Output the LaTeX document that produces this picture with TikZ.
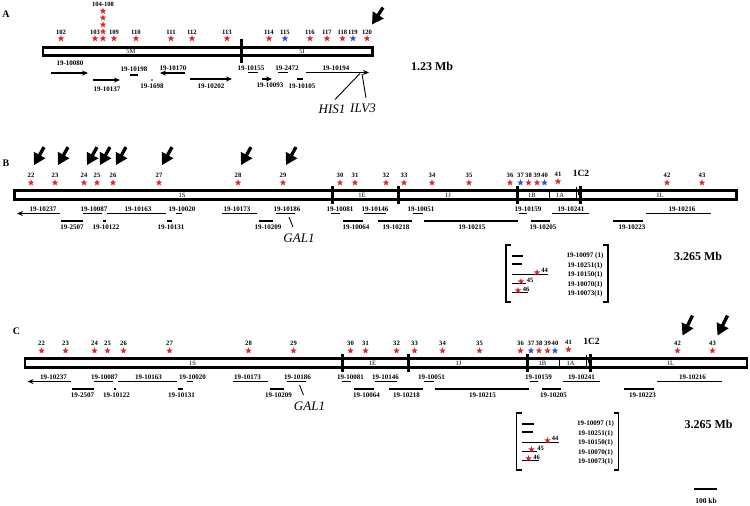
\documentclass[tikz,border=0pt]{standalone}
\usepackage{fontspec}
\setmainfont{Liberation Serif}
\usetikzlibrary{shapes.geometric,arrows.meta,calc}
\definecolor{mutred}{RGB}{222,38,48}
\definecolor{mutblue}{RGB}{52,72,235}
\tikzset{
  chrom/.style={draw, line width=2.8pt},
  cen/.style={line width=3pt},
  sepline/.style={line width=0.8pt},
  gene/.style={line width=1.1pt},
  genearrow/.style={gene, -{Stealth[length=6pt,width=5pt]}},
  glabel/.style={font=\fontsize{7}{8}\selectfont\bfseries, inner sep=0pt},
  seglabel/.style={font=\fontsize{6.5}{7}\selectfont, inner sep=0pt},
  num/.style={font=\fontsize{6.6}{8}\selectfont\bfseries, inner sep=0pt},
  smallnum/.style={font=\fontsize{6.5}{7}\selectfont\bfseries, inner sep=0pt},
  mut/.style={star, star points=5, star point ratio=2.4, fill=mutred,
              minimum size=6.8pt, inner sep=0pt},
  mutb/.style={mut, fill=mutblue},
  hotarrow/.style={line width=3.3pt, -{Triangle[length=11.5pt,width=12.5pt]}},
  pointer/.style={line width=0.9pt},
  genename/.style={font=\fontsize{13}{15}\selectfont\itshape, inner sep=0pt},
  mblabel/.style={font=\fontsize{12}{14}\selectfont\bfseries, inner sep=0pt},
  panel/.style={font=\fontsize{10}{12}\selectfont\bfseries, inner sep=0pt},
  brk/.style={line width=1.3pt},
}
% chromosome I map, drawn for panels B and C
\newcommand{\chrIpanel}[1]{%
  \node[panel] (tag) at (6,163) {#1};
  % chromosome box and region borders
  \draw[chrom] (14.5,190.8) rectangle (736.5,199.2);
  \foreach \x in {332,398,517,580} \draw[cen] (\x,186) -- (\x,204);
  \draw[sepline] (549,191) -- (549,199);
  \draw[sepline] (576,187) -- (576,199);
  \draw[sepline] (578,191.5) -- (578,194.5);
  % region names
  \foreach \r/\x in {1S/182,1E/362,1J/448,1B/532,1A/560,1L/660}
    \node[seglabel] (r\r) at (\x,195.3) {\r};
  \node[font=\fontsize{9.5}{11}\selectfont\bfseries, inner sep=0pt] (c2) at (581,173) {1C2};
  % mutation sites
  \foreach \n/\x in {22/31,23/55,24/84,25/97,26/113,27/159,28/238,29/283,30/340,31/355,
                     32/386,33/404,34/432,35/469,36/510,38/528.5,39/537,42/667,43/702}
    {\node[mut] (s\n) at (\x,182.7) {}; \node[num] (n\n) at (\x,175) {\n};}
  \foreach \n/\x in {37/520.5,40/544.5}
    {\node[mutb] (s\n) at (\x,182.7) {}; \node[num] (n\n) at (\x,175) {\n};}
  \node[mut] (s41) at (558,181.5) {};
  \node[num] (n41) at (558,174) {41};
  % genes, upper row
  \node[glabel] (g10237) at (43,209) {19-10237};
  \draw[genearrow] (60,213.5) -- (17,213.5);
  \foreach \g/\lx/\a/\b in {10087/94/83/102, 10163/138/107/166, 10020/182/176/182,
                            10173/237/222/257, 10186/287/276/295, 10081/340/331/340,
                            10146/375/364/386, 10051/421/413/423, 10159/528/519/527,
                            10241/571/552/589, 10216/682/646/711}
    {\node[glabel] (g\g) at (\lx,209) {19-\g}; \draw[gene] (\a,213.5) -- (\b,213.5);}
  % genes, lower row
  \foreach \g/\lx/\a/\b in {2507/72/61/83, 10122/106/103/105.5, 10131/171/167/172,
                            10209/268/259/273, 10064/356/343/363, 10218/396/378/412,
                            10215/472/424/518, 10205/543/531/550, 10223/632/613/643}
    {\node[glabel] (g\g) at (\lx,227) {19-\g}; \draw[gene] (\a,221) -- (\b,221);}
  % GAL1
  \node[genename] (gal) at (299,238) {GAL1};
  \coordinate (galtip) at (289,217);
  \coordinate (galend) at (293,227);
  \draw[pointer] (galtip) -- (galend);
  % bracket of the small segments
  \draw[brk] (511,245) -- (506,245) -- (506,302) -- (511,302);
  \draw[brk] (603,245) -- (608,245) -- (608,302) -- (603,302);
  \foreach \y/\b in {256/523, 264/522, 274.5/548, 283.5/526, 292.5/528}
    \draw[gene] (511.5,\y) -- (\b,\y);
  \node[mut] (s44) at (537,272.5) {};
  \node[smallnum] (n44) at (544.5,270) {44};
  \node[mut] (s45) at (521,281.5) {};
  \node[smallnum] (n45) at (530,280) {45};
  \node[mut] (s46) at (518,290.5) {};
  \node[smallnum] (n46) at (526,289) {46};
  \node[glabel] (b1) at (585,256) {19-10097 (1)};
  \node[glabel] (b2) at (585,265.5) {19-10251(1)};
  \node[glabel] (b3) at (585,275) {19-10150(1)};
  \node[glabel] (b4) at (585,284.5) {19-10070(1)};
  \node[glabel] (b5) at (585,293.5) {19-10073(1)};
  \node[mblabel] (mb) at (698,256) {3.265 Mb};
}

\begin{document}
\begin{tikzpicture}[x=1pt, y=-1pt]
  \useasboundingbox (0,0) rectangle (750,506);
  \fill[white] (0,0) rectangle (750,506);

  % Panel A: chromosome V
  \node[panel] (tagA) at (6,14) {A};
  \draw[chrom] (43,47.2) rectangle (372.5,55.3);
  \draw[cen] (241,39) -- (241,63);
  \node[seglabel] (r5M) at (131,51.3) {5M};
  \node[seglabel] (r5I) at (302,51.3) {5I};
  % mutation sites
  \foreach \n/\x in {102/61,103/95,109/114,110/136,111/171,112/192,113/227,
                     114/269,116/310,117/327,118/342.5,120/367}
    {\node[mut] (sA\n) at (\x,38.5) {}; \node[num] (nA\n) at (\x,32) {\n};}
  \foreach \n/\x in {115/285,119/353}
    {\node[mutb] (sA\n) at (\x,38.5) {}; \node[num] (nA\n) at (\x,32) {\n};}
  \foreach \n/\y in {104/11,105/17.8,106/24.7,107/31.6,108/38.5}
    \node[mut] (sA\n) at (103,\y) {};
  \node[num] (nA104) at (103,4.5) {104-108};
  \draw[hotarrow] ([shift={(16,-22)}]nA120.north) -- ([shift={(5,-5)}]nA120.north);
  % genes
  \node[glabel] (gA10080) at (70,63) {19-10080};
  \draw[genearrow] (51,73) -- (88,73);
  \node[glabel] (gA10137) at (107,89) {19-10137};
  \draw[genearrow] (93,80) -- (120,80);
  \node[glabel] (gA10198) at (134,69) {19-10198};
  \draw[gene] (130,75) -- (138,75);
  \node[glabel] (gA1698) at (152,86) {19-1698};
  \fill (152,80) circle[radius=0.9pt];
  \node[glabel] (gA10170) at (173,68) {19-10170};
  \draw[genearrow] (185,73) -- (160,73);
  \node[glabel] (gA10202) at (211,86) {19-10202};
  \draw[genearrow] (190,79) -- (232,79);
  \node[glabel] (gA10155) at (251,68) {19-10155};
  \draw[gene] (248,72.5) -- (258,72.5);
  \node[glabel] (gA10093) at (270,85) {19-10093};
  \draw[genearrow] (262,79) -- (272,79);
  \node[glabel] (gA2472) at (287,68) {19-2472};
  \draw[gene] (278,72.5) -- (288,72.5);
  \node[glabel] (gA10105) at (302,86) {19-10105};
  \draw[gene] (297,79) -- (303,79);
  \node[glabel] (gA10194) at (336,68) {19-10194};
  \draw[genearrow] (306,72.5) -- (369,72.5);
  % HIS1 and ILV3
  \node[genename] (his) at (332,109) {HIS1};
  \node[genename] (ilv) at (363,108) {ILV3};
  \coordinate (hisend) at (360,73.5);
  \coordinate (ilvend) at (362,74);
  \draw[pointer] ([shift={(3,-5)}]his.north) -- (hisend);
  \draw[pointer] ([shift={(3,-5.5)}]ilv.north) -- (ilvend);
  \node[mblabel] (mbA) at (432,66) {1.23 Mb};

  % Panel B
  \begin{scope}[name prefix=B-]
    \chrIpanel{B}
  \end{scope}
  \foreach \n in {22,...,29}
    \draw[hotarrow] ([shift={(13,-25.5)}]B-n\n.north) -- ([shift={(3,-7.5)}]B-n\n.north);

  % Panel C
  \begin{scope}[shift={(10.5,168)}, name prefix=C-]
    \chrIpanel{C}
  \end{scope}
  \foreach \n in {42,43}
    \draw[hotarrow] ([shift={(15,-25)}]C-n\n.north) -- ([shift={(5,-5)}]C-n\n.north);

  % scale bar
  \draw[line width=1.2pt] (694,489) coordinate (sb1) -- (717,489) coordinate (sb2);
  \node[font=\fontsize{7.5}{9}\selectfont\bfseries, inner sep=0pt] (sbl) at (706,501) {100 kb};
\end{tikzpicture}
\end{document}
